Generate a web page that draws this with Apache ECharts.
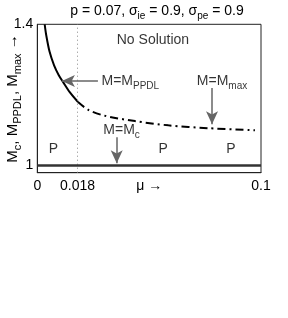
<!DOCTYPE html>
<html>
<head>
<meta charset="utf-8">
<script src="https://cdn.jsdelivr.net/npm/echarts@6/dist/echarts.min.js"></script>
<style>
html,body{margin:0;padding:0;background:#fff;}
#c{width:288px;height:318px;}
</style>
</head>
<body>
<div id="c"></div>
<script>
// ---- data ----
const xTicks = [0, 0.018, 0.1];
const xTickLabels = ['0', '0.018', '0.1'];
const yTicks = [1, 1.4];
const yTickLabels = ['1', '1.4'];

// M = M_PPDL (solid)
const ppdlMu = [0.0033, 0.0040, 0.0055, 0.0075, 0.0096, 0.0115, 0.0145, 0.0182];
const ppdlM  = [1.400, 1.369, 1.322, 1.284, 1.256, 1.237, 1.208, 1.180];

// M = M_max (dash-dot)
const maxMu = [0.0182, 0.0228, 0.0303, 0.0437, 0.0586, 0.0764, 0.0973];
const maxM  = [1.180, 1.158, 1.141, 1.126, 1.114, 1.106, 1.100];

// M = M_c
const mcLevel = 1;
const muMark = 0.018;

// annotations: [mu, M, text]
const labelMu   = [0.0517, 0.0287, 0.0713, 0.0295, 0.00715, 0.0563, 0.0866];
const labelM    = [1.356, 1.2396, 1.2396, 1.101, 1.0464, 1.0464, 1.0464];
const labelText = ['No Solution', 'M=M{sub|PPDL}', 'M=M{sub|max}', 'M=M{sub|c}', 'P', 'P', 'P'];
const labelAlign = ['center', 'left', 'left', 'left', 'center', 'center', 'center'];

// arrows: from -> to
const arrowFromMu = [0.0271, 0.0781, 0.0355];
const arrowFromM  = [1.2396, 1.220, 1.080];
const arrowToMu   = [0.0110, 0.0781, 0.0355];
const arrowToM    = [1.2396, 1.117, 1.007];

const FONT = 'Liberation Sans, Arial, Helvetica, sans-serif';
const subRich = {
  base: {fontSize: 14, fontFamily: FONT, color: '#000', fontWeight: 'normal', lineHeight: 20},
  sub: {fontSize: 10, fontFamily: FONT, color: '#000', fontWeight: 'normal', lineHeight: 10, padding: [10, 0, 0, 0], verticalAlign: 'bottom'}
};
const yRich = {
  base: {fontSize: 15, fontFamily: FONT, color: '#000', fontWeight: 'normal', lineHeight: 21},
  sub: {fontSize: 11, fontFamily: FONT, color: '#000', fontWeight: 'normal', lineHeight: 11, padding: [10, 0, 0, 0], verticalAlign: 'bottom'}
};

function zip(a, b) { return a.map((v, i) => [v, b[i]]); }

const chart = echarts.init(document.getElementById('c'), null, {renderer: 'canvas'});
chart.setOption({
  animation: false,
  backgroundColor: '#fff',
  title: {
    text: '{base|p = 0.07, σ}{sub|ie}{base| = 0.9, σ}{sub|pe}{base| = 0.9}',
    left: 152, top: -4, textAlign: 'center',
    textStyle: {fontWeight: 'normal', rich: subRich}
  },
  grid: {left: 37.3, right: 27, top: 24.3, bottom: 145.3, show: true, borderColor: '#222', borderWidth: 1,
         containLabel: false, outerBoundsMode: 'none'},
  xAxis: {
    type: 'value', min: 0, max: 0.1,
    splitLine: {show: false},
    axisLine: {show: true, lineStyle: {color: '#222', width: 1}},
    axisTick: {show: false},
    axisLabel: {
      customValues: xTicks,
      formatter: v => { const i = xTicks.findIndex(t => Math.abs(t - v) < 1e-9); return i >= 0 ? xTickLabels[i] : ''; },
      fontSize: 14, fontFamily: FONT, color: '#000', margin: 6
    },
    name: 'μ →', nameLocation: 'middle', nameGap: 6, nameMoveOverlap: false,
    nameTextStyle: {fontSize: 14, fontFamily: FONT, color: '#000', verticalAlign: 'top'}
  },
  yAxis: {
    type: 'value', min: 0.98, max: 1.4,
    splitLine: {show: false},
    axisLine: {show: true, lineStyle: {color: '#222', width: 1}},
    axisTick: {show: false},
    axisLabel: {
      customValues: yTicks,
      formatter: v => { const i = yTicks.findIndex(t => Math.abs(t - v) < 1e-9); return i >= 0 ? yTickLabels[i] : ''; },
      fontSize: 14, fontFamily: FONT, color: '#000', margin: 4
    },
    name: '{base|M}{sub|c}{base|, M}{sub|PPDL}{base|, M}{sub|max}{base| →}',
    nameLocation: 'middle', nameRotate: 90, nameGap: 14, nameMoveOverlap: false,
    nameTextStyle: {rich: yRich}
  },
  series: [
    {
      type: 'line', name: 'PPDL', data: zip(ppdlMu, ppdlM), smooth: 0.3, showSymbol: false,
      lineStyle: {color: '#000', width: 2},
      markLine: {
        silent: true, symbol: 'none', label: {show: false},
        data: [
          [{coord: [muMark, 0.98], lineStyle: {color: '#888', width: 1, type: [1, 3]}}, {coord: [muMark, 1.4]}],
          [{coord: [0, mcLevel], lineStyle: {color: '#333', width: 2.5, type: 'solid'}}, {coord: [0.1, mcLevel]}]
        ]
      }
    },
    {
      type: 'line', name: 'Mmax', data: zip(maxMu, maxM), smooth: 0.3, showSymbol: false,
      lineStyle: {color: '#000', width: 2, type: [8, 4, 2, 4]}
    },
    {
      type: 'line', name: 'arrows', data: [],
      markLine: {
        silent: true, symbol: ['none', 'arrow'], symbolSize: [9, 13], label: {show: false},
        lineStyle: {color: '#666', width: 1.5, type: 'solid'},
        itemStyle: {color: '#000'},
        data: arrowFromMu.map((m, i) => [
          {coord: [m, arrowFromM[i]], symbol: 'none'},
          {coord: [arrowToMu[i], arrowToM[i]], symbol: 'arrow', itemStyle: {color: '#000'}}
        ])
      }
    },
    {
      type: 'scatter', name: 'labels', symbolSize: 0, silent: true,
      data: labelMu.map((m, i) => ({
        value: [m, labelM[i]],
        label: {
          show: true, position: 'inside', align: labelAlign[i], verticalAlign: 'middle',
          formatter: labelText[i].includes('{') ? '{base|' + labelText[i].replace('{sub|', '}{sub|') : '{base|' + labelText[i] + '}',
          rich: subRich
        }
      }))
    }
  ]
});
</script>
</body>
</html>
